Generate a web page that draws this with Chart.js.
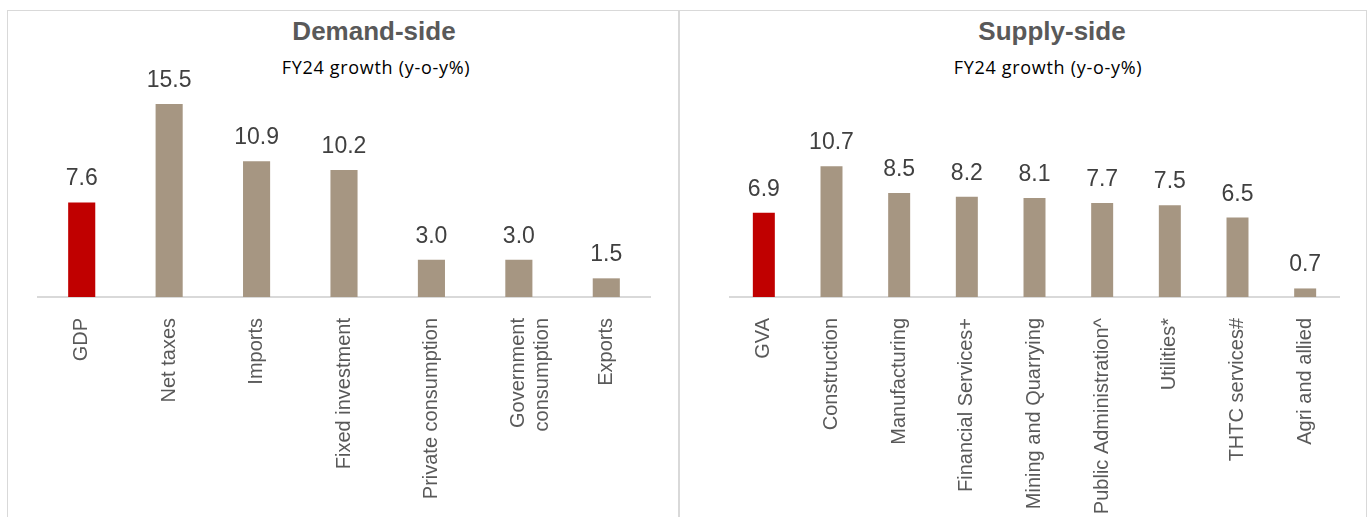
<!DOCTYPE html>
<html>
<head>
<meta charset="utf-8">
<script src="https://cdn.jsdelivr.net/npm/chart.js@4.4.1/dist/chart.umd.min.js"></script>
<style>
  body { margin: 0; background: #fff; width: 1369px; height: 517px; overflow: hidden; position: relative; font-family: 'Liberation Sans', Arial, sans-serif; }
  .panel { position: absolute; top: 10px; height: 530px; border: 1.5px solid #d9d9d9; box-sizing: border-box; }
  .title { position: absolute; width: 300px; text-align: center; font-weight: bold; font-size: 26px; color: #595959; line-height: 26px; }
  .sub { position: absolute; width: 300px; text-align: center; font-family: 'Open Sans', Lato, sans-serif; font-size: 18px; letter-spacing: 0.7px; color: #000; line-height: 20px; }
  canvas { position: absolute; }
</style>
</head>
<body>
<div class="panel" style="left:7px; width:672px;"></div>
<div class="panel" style="left:679px; width:688px;"></div>

<div class="title" style="left:224px; top:18px;">Demand-side</div>
<div class="sub" style="left:226px; top:57px;">FY24 growth (y-o-y%)</div>
<div class="title" style="left:902px; top:18px;">Supply-side</div>
<div class="sub" style="left:898px; top:57px;">FY24 growth (y-o-y%)</div>

<canvas id="demandChart" width="670" height="506" style="left:8px; top:11px;"></canvas>
<canvas id="supplyChart" width="685" height="506" style="left:681px; top:11px;"></canvas>

<script>
// 需要側（FY24 前年比 %）
const demandLabels = ['GDP', 'Net taxes', 'Imports', 'Fixed investment', 'Private consumption', ['Government', 'consumption'], 'Exports'];
const demandValues = [7.6, 15.5, 10.9, 10.2, 3.0, 3.0, 1.5];

// 供給側（FY24 前年比 %）
const supplyLabels = ['GVA', 'Construction', 'Manufacturing', 'Financial Services+', 'Mining and Quarrying', 'Public Administration^', 'Utilities*', 'THTC services#', 'Agri and allied'];
const supplyValues = [6.9, 10.7, 8.5, 8.2, 8.1, 7.7, 7.5, 6.5, 0.7];

const RED = '#C00000';
const TAUPE = '#A69682';

// 棒の上に値を描く
const valueLabels = {
  id: 'valueLabels',
  afterDatasetsDraw(chart) {
    const ctx = chart.ctx;
    const meta = chart.getDatasetMeta(0);
    const data = chart.data.datasets[0].data;
    ctx.save();
    ctx.font = '23px "Liberation Sans", Arial, sans-serif';
    ctx.fillStyle = '#404040';
    ctx.textAlign = 'center';
    ctx.textBaseline = 'alphabetic';
    meta.data.forEach((bar, i) => {
      ctx.fillText(data[i].toFixed(1), bar.x, bar.y - 17);
    });
    ctx.restore();
  }
};

function makeChart(canvasId, labels, values, pad, barPct) {
  return new Chart(document.getElementById(canvasId), {
    type: 'bar',
    data: {
      labels: labels,
      datasets: [{
        data: values,
        backgroundColor: values.map((v, i) => i === 0 ? RED : TAUPE),
        barPercentage: barPct,
        categoryPercentage: 1
      }]
    },
    options: {
      responsive: false,
      animation: false,
      layout: { padding: pad },
      plugins: { legend: { display: false }, tooltip: { enabled: false } },
      scales: {
        x: {
          grid: { display: false, drawTicks: false },
          border: { display: true, color: '#d9d9d9', width: 2 },
          ticks: {
            color: '#595959',
            font: { family: '"Liberation Sans", Arial, sans-serif', size: 20 },
            maxRotation: 90,
            minRotation: 90,
            autoSkip: false,
            padding: 21
          },
          afterFit(scale) { scale.height = 220; }
        },
        y: { display: false, min: 0, max: 18 }
      }
    },
    plugins: [valueLabels]
  });
}

makeChart('demandChart', demandLabels, demandValues, { top: 62, left: 30, right: 28, bottom: 0 }, 0.31);
makeChart('supplyChart', supplyLabels, supplyValues, { top: 66, left: 49, right: 27, bottom: 0 }, 0.325);
</script>
</body>
</html>
